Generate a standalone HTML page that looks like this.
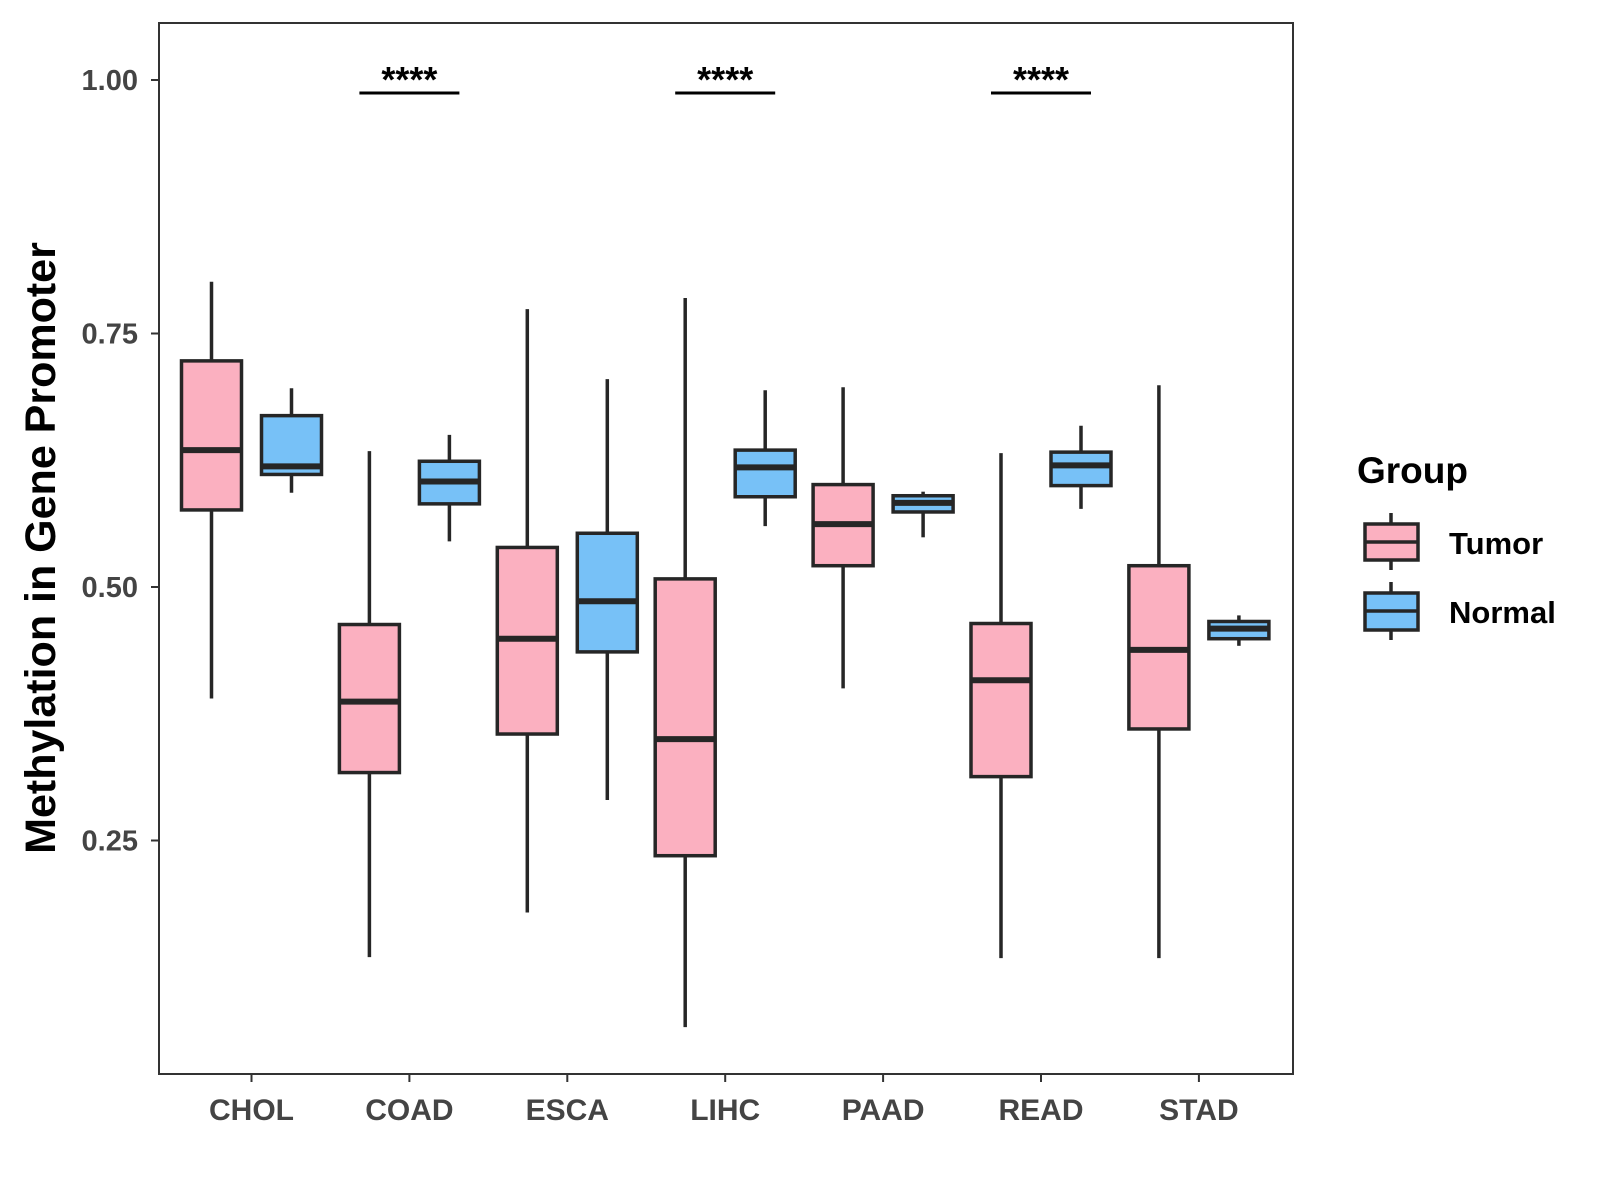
<!DOCTYPE html>
<html><head><meta charset="utf-8"><style>
html,body{margin:0;padding:0;background:#fff;}
svg{display:block;font-family:"Liberation Sans",Arial,sans-serif;font-weight:bold;}
</style></head><body>
<svg id="chart" width="1600" height="1200" viewBox="0 0 1600 1200">
<rect x="159" y="23" width="1134" height="1051" fill="#fff" stroke="#333" stroke-width="2"/>
<g id="marks"></g>
<g id="axes"></g>
<text transform="translate(55,548) rotate(-90)" text-anchor="middle" font-size="43" fill="#000">Methylation in Gene Promoter</text>
<g>
<text x="1357" y="483" font-size="37" fill="#000">Group</text>
<g>
<line x1="1391" y1="513" x2="1391" y2="570" stroke="#262626" stroke-width="3.5"/>
<rect x="1365" y="524" width="53" height="36" fill="#FBB0C0" stroke="#262626" stroke-width="3.5"/>
<line x1="1365" y1="542" x2="1418" y2="542" stroke="#262626" stroke-width="3.5"/>
<text x="1449" y="554" font-size="31" fill="#000">Tumor</text>
</g>
<g>
<line x1="1391" y1="582" x2="1391" y2="640" stroke="#262626" stroke-width="3.5"/>
<rect x="1365" y="593" width="53" height="37" fill="#77C1F7" stroke="#262626" stroke-width="3.5"/>
<line x1="1365" y1="611" x2="1418" y2="611" stroke="#262626" stroke-width="3.5"/>
<text x="1449" y="623" font-size="31" fill="#000">Normal</text>
</g>
</g>
</svg>
<script>
const categories = ["CHOL","COAD","ESCA","LIHC","PAAD","READ","STAD"];
const tumorLow = [0.390,0.135,0.179,0.066,0.400,0.134,0.134];
const tumorQ1  = [0.576,0.317,0.355,0.235,0.521,0.313,0.360];
const tumorMed = [0.635,0.387,0.449,0.350,0.562,0.408,0.438];
const tumorQ3  = [0.723,0.463,0.539,0.508,0.601,0.464,0.521];
const tumorHigh= [0.801,0.634,0.774,0.785,0.697,0.632,0.699];
const normalLow = [0.593,0.545,0.290,0.560,0.549,0.577,0.442];
const normalQ1  = [0.611,0.582,0.436,0.589,0.574,0.600,0.449];
const normalMed = [0.619,0.604,0.486,0.618,0.583,0.620,0.459];
const normalQ3  = [0.669,0.624,0.553,0.635,0.590,0.633,0.466];
const normalHigh= [0.696,0.650,0.705,0.694,0.594,0.659,0.472];
const yTicks = [0.25,0.50,0.75,1.00];
const yTickLabels = ["0.25","0.50","0.75","1.00"];
const sigCategories = ["COAD","LIHC","READ"];
const sigLabels = ["****","****","****"];

const NS="http://www.w3.org/2000/svg";
function y(v){return 80+(1-v)*1014;}
function x(i){return 251.5+i*157.9;}
function mk(tag,attrs,parent){const e=document.createElementNS(NS,tag);for(const k in attrs)e.setAttribute(k,attrs[k]);parent.appendChild(e);return e;}
const marks=document.getElementById('marks'), axes=document.getElementById('axes');
function box(cx,lo,q1,md,q3,hi,fill,name){
  const g=mk('g',{},marks);
  
  
  const w=60, st='#262626';
  mk('line',{x1:cx,x2:cx,y1:y(hi),y2:y(lo),stroke:st,'stroke-width':3.5},g);
  mk('rect',{x:cx-w/2,y:y(q3),width:w,height:y(q1)-y(q3),fill:fill,stroke:st,'stroke-width':3.5},g);
  mk('line',{x1:cx-w/2,x2:cx+w/2,y1:y(md),y2:y(md),stroke:st,'stroke-width':6},g);
}
categories.forEach((c,i)=>{
  box(x(i)-40,tumorLow[i],tumorQ1[i],tumorMed[i],tumorQ3[i],tumorHigh[i],'#FBB0C0','box-tumor-'+c.toLowerCase());
  box(x(i)+40,normalLow[i],normalQ1[i],normalMed[i],normalQ3[i],normalHigh[i],'#77C1F7','box-normal-'+c.toLowerCase());
  mk('line',{x1:x(i),x2:x(i),y1:1074,y2:1082,stroke:'#333','stroke-width':2},axes);
  const t=mk('text',{x:x(i),y:1120,'text-anchor':'middle','font-size':30,fill:'#444'},axes);
  
  
  t.textContent=c;
});
yTicks.forEach((v,i)=>{
  mk('line',{x1:151,x2:159,y1:y(v),y2:y(v),stroke:'#333','stroke-width':2},axes);
  const t=mk('text',{x:138,y:y(v)+10,'text-anchor':'end','font-size':29,fill:'#444'},axes);
  
  
  t.textContent=yTickLabels[i];
});
sigCategories.forEach((c,j)=>{
  const i=categories.indexOf(c);
  const g=mk('g',{},marks);
  
  
  mk('line',{x1:x(i)-50,x2:x(i)+50,y1:93,y2:93,stroke:'#000','stroke-width':3},g);
  const t=mk('text',{x:x(i),y:92,'text-anchor':'middle','font-size':36,fill:'#000'},g);
  t.textContent=sigLabels[j];
});
</script>
</body></html>
